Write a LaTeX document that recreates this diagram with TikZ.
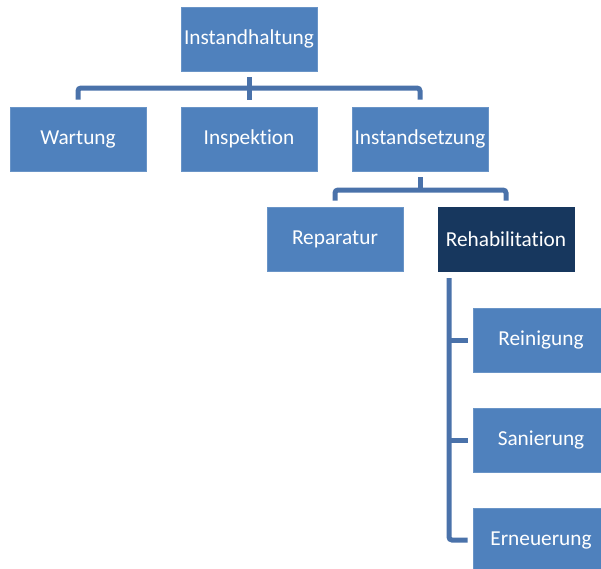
\documentclass[tikz,border=0pt]{standalone}
\usepackage{fontspec}
\setmainfont[Ligatures=CommonOff]{Carlito}
\definecolor{boxblue}{RGB}{79,129,189}
\definecolor{darknavy}{RGB}{23,55,94}
\definecolor{linkblue}{RGB}{74,114,170}
\begin{document}
\begin{tikzpicture}[x=1pt,y=-1pt,
  box/.style={fill=boxblue,draw=boxblue!85!white,line width=0.6pt,minimum width=136pt,minimum height=64pt,inner sep=0pt,text=white,font=\fontsize{21.3}{25}\selectfont},
  darkbox/.style={box,fill=darknavy,draw=darknavy},
  conn/.style={draw=linkblue,line width=5pt,rounded corners=3pt}]
\useasboundingbox (0,0) rectangle (601,568);
\clip (0,0) rectangle (601,568);
\node[box] (top) at (249,39) {Instandhaltung};
\node[box] (wartung) at (78,139) {Wartung};
\node[box] (inspektion) at (249,139) {Inspektion};
\node[box] (instandsetzung) at (420,139) {Instandsetzung};
\node[box] (reparatur) at (335,239) {Reparatur};
\node[darkbox] (rehab) at (506,239) {Rehabilitation};
\node[box] (reinigung) at (541,340) {Reinigung};
\node[box] (sanierung) at (541,440) {Sanierung};
\node[box] (erneuerung) at (541,540) {Erneuerung};
\coordinate (b1) at (249,88);
\coordinate (b2) at (420,190);
\coordinate (v) at (449,278);
% level 1
\draw[conn] ([yshift=-6pt]top.south) -- ([yshift=7pt]inspektion.north);
\draw[conn] ([yshift=7pt]wartung.north) |- (b1) -| ([yshift=7pt]instandsetzung.north);
% level 2
\draw[conn] ([yshift=-6pt]instandsetzung.south) -- (b2);
\draw[conn] ([yshift=6pt]reparatur.north) |- (b2) -| ([yshift=6pt]rehab.north);
% level 3
\draw[conn] (v) |- ([xshift=-5pt]erneuerung.west);
\draw[conn] (v |- reinigung.west) -- ([xshift=-5pt]reinigung.west);
\draw[conn] (v |- sanierung.west) -- ([xshift=-5pt]sanierung.west);
\end{tikzpicture}
\end{document}
